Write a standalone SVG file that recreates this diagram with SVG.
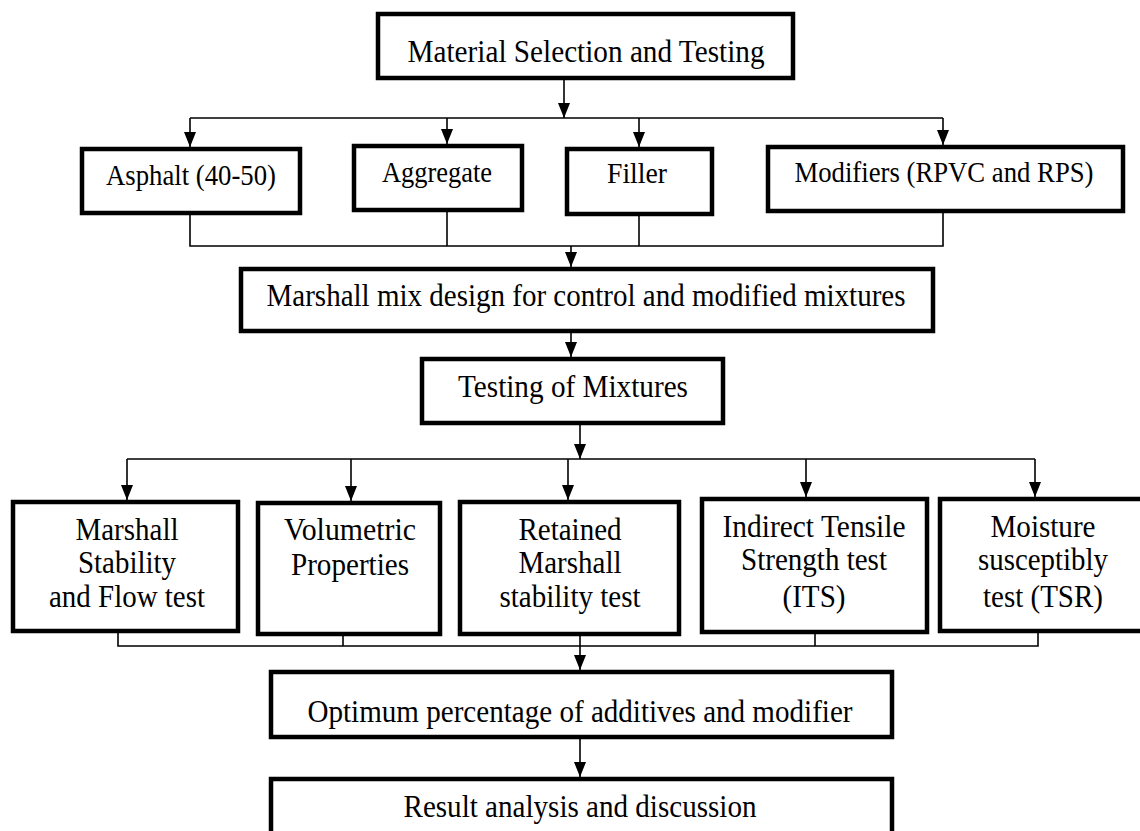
<svg xmlns="http://www.w3.org/2000/svg" width="1140" height="831" viewBox="0 0 1140 831">
<style>
.box{fill:#fff;stroke:#000;stroke-width:4.5}
.t{font-family:"Liberation Serif","Times New Roman",serif;font-size:31px;fill:#000;text-anchor:middle}
.m{font-size:29px}
.c{fill:none;stroke:#000;stroke-width:1.6}
</style>
<defs>
<marker id="ah" markerUnits="userSpaceOnUse" markerWidth="15" markerHeight="12" refX="15" refY="6" orient="auto" viewBox="0 0 15 12">
<path d="M0,0 L15,6 L0,12 Z" fill="#000"/>
</marker>
</defs>
<rect width="1140" height="831" fill="#fff"/>
<g id="connectors">
<line class="c" x1="564" y1="80" x2="564" y2="118" marker-end="url(#ah)"/>
<line class="c" x1="190" y1="118" x2="943" y2="118"/>
<line class="c" x1="190" y1="118" x2="190" y2="147" marker-end="url(#ah)"/>
<line class="c" x1="447" y1="118" x2="447" y2="144" marker-end="url(#ah)"/>
<line class="c" x1="639" y1="118" x2="639" y2="147" marker-end="url(#ah)"/>
<line class="c" x1="943" y1="118" x2="943" y2="145" marker-end="url(#ah)"/>
<polyline class="c" points="190,215 190,246 943,246 943,213"/>
<line class="c" x1="447" y1="212" x2="447" y2="246"/>
<line class="c" x1="639" y1="216" x2="639" y2="246"/>
<line class="c" x1="571" y1="246" x2="571" y2="267" marker-end="url(#ah)"/>
<line class="c" x1="571" y1="333" x2="571" y2="357" marker-end="url(#ah)"/>
<line class="c" x1="580" y1="425" x2="580" y2="459" marker-end="url(#ah)"/>
<line class="c" x1="127" y1="459" x2="1035" y2="459"/>
<line class="c" x1="127" y1="459" x2="127" y2="500" marker-end="url(#ah)"/>
<line class="c" x1="351" y1="459" x2="351" y2="501" marker-end="url(#ah)"/>
<line class="c" x1="568" y1="459" x2="568" y2="500" marker-end="url(#ah)"/>
<line class="c" x1="806" y1="459" x2="806" y2="497" marker-end="url(#ah)"/>
<line class="c" x1="1035" y1="459" x2="1035" y2="497" marker-end="url(#ah)"/>
<polyline class="c" points="118,633 118,646 1038,646 1038,633"/>
<line class="c" x1="343" y1="636" x2="343" y2="646"/>
<line class="c" x1="815" y1="634" x2="815" y2="646"/>
<line class="c" x1="580" y1="636" x2="580" y2="670" marker-end="url(#ah)"/>
<line class="c" x1="580" y1="739" x2="580" y2="777" marker-end="url(#ah)"/>
</g>
<g id="n-material"><rect class="box" x="378" y="14" width="415" height="64"/><text class="t" x="586" y="62" textLength="357" lengthAdjust="spacingAndGlyphs">Material Selection and Testing</text></g>
<g id="n-asphalt"><rect class="box" x="82" y="149" width="218" height="64"/><text class="t m" x="191" y="185" textLength="170" lengthAdjust="spacingAndGlyphs">Asphalt (40-50)</text></g>
<g id="n-aggregate"><rect class="box" x="354" y="146" width="168" height="64"/><text class="t m" x="437" y="182" textLength="110" lengthAdjust="spacingAndGlyphs">Aggregate</text></g>
<g id="n-filler"><rect class="box" x="567" y="149" width="145" height="65"/><text class="t m" x="637" y="183" textLength="60" lengthAdjust="spacingAndGlyphs">Filler</text></g>
<g id="n-modifiers"><rect class="box" x="768" y="147" width="355" height="64"/><text class="t m" x="944" y="182" textLength="299" lengthAdjust="spacingAndGlyphs">Modifiers (RPVC and RPS)</text></g>
<g id="n-marshall-mix"><rect class="box" x="241" y="269" width="692" height="62"/><text class="t" x="586" y="306" textLength="639" lengthAdjust="spacingAndGlyphs">Marshall mix design for control and modified mixtures</text></g>
<g id="n-testing"><rect class="box" x="422" y="359" width="301" height="64"/><text class="t" x="573" y="397" textLength="230" lengthAdjust="spacingAndGlyphs">Testing of Mixtures</text></g>
<g id="n-stability"><rect class="box" x="13" y="502" width="225" height="129"/><text class="t" x="127" y="540" textLength="103" lengthAdjust="spacingAndGlyphs">Marshall</text><text class="t" x="127" y="573" textLength="98" lengthAdjust="spacingAndGlyphs">Stability</text><text class="t" x="127" y="607" textLength="156" lengthAdjust="spacingAndGlyphs">and Flow test</text></g>
<g id="n-volumetric"><rect class="box" x="258" y="503" width="182" height="131"/><text class="t" x="350" y="540" textLength="132" lengthAdjust="spacingAndGlyphs">Volumetric</text><text class="t" x="350" y="575" textLength="118" lengthAdjust="spacingAndGlyphs">Properties</text></g>
<g id="n-retained"><rect class="box" x="460" y="502" width="219" height="132"/><text class="t" x="570" y="540" textLength="103" lengthAdjust="spacingAndGlyphs">Retained</text><text class="t" x="570" y="573" textLength="103" lengthAdjust="spacingAndGlyphs">Marshall</text><text class="t" x="570" y="607" textLength="141" lengthAdjust="spacingAndGlyphs">stability test</text></g>
<g id="n-its"><rect class="box" x="702" y="499" width="225" height="133"/><text class="t" x="814" y="537" textLength="183" lengthAdjust="spacingAndGlyphs">Indirect Tensile</text><text class="t" x="814" y="570" textLength="146" lengthAdjust="spacingAndGlyphs">Strength test</text><text class="t" x="814" y="607" textLength="63" lengthAdjust="spacingAndGlyphs">(ITS)</text></g>
<g id="n-tsr"><rect class="box" x="940" y="499" width="210" height="132"/><text class="t" x="1043" y="537" textLength="105" lengthAdjust="spacingAndGlyphs">Moisture</text><text class="t" x="1043" y="570" textLength="130" lengthAdjust="spacingAndGlyphs">susceptibly</text><text class="t" x="1043" y="607" textLength="120" lengthAdjust="spacingAndGlyphs">test (TSR)</text></g>
<g id="n-optimum"><rect class="box" x="271" y="672" width="621" height="65"/><text class="t" x="580" y="722" textLength="545" lengthAdjust="spacingAndGlyphs">Optimum percentage of additives and modifier</text></g>
<g id="n-result"><rect class="box" x="271" y="779" width="621" height="80"/><text class="t" x="580" y="817" textLength="353" lengthAdjust="spacingAndGlyphs">Result analysis and discussion</text></g>
</svg>
